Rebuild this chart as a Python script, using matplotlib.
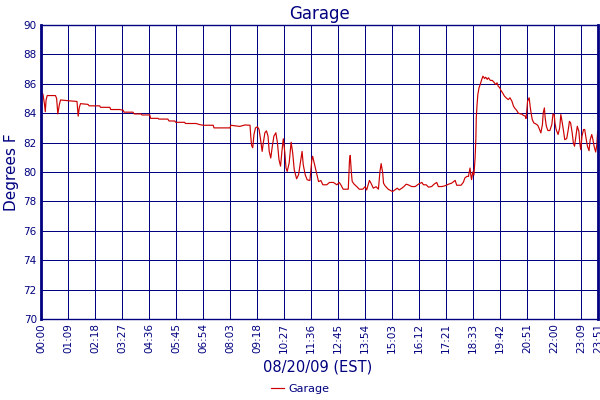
import matplotlib
matplotlib.use("Agg")
import matplotlib.pyplot as plt

navy = "#000080"

# sample index (one reading per minute, with gaps) and temperature readings
sample = [1, 5, 9, 11, 13, 16, 37, 40, 43, 47, 50, 69, 92, 95, 98, 101, 120, 123,
          150, 152, 176, 178, 201, 210, 212, 235, 238, 256, 258, 278, 280, 299, 301,
          324, 327, 342, 344, 367, 369,
          376, 396, 406, 415, 440, 442, 483, 485, 508, 521, 534, 536, 538, 541, 544,
          548, 553, 557, 561, 565, 568, 572, 576, 580, 583, 587, 591, 595, 600, 604,
          608, 612, 616, 619, 623, 626, 629, 634, 639, 643, 647, 653, 658, 664, 667,
          670, 675, 680, 687, 692, 694, 698, 703, 709, 715, 720, 730, 737,
          747, 756, 762, 766, 772, 785, 788, 790, 793, 795, 800, 807, 813, 822, 828,
          832, 839, 843, 849, 856, 862, 866, 869, 873, 875, 879, 887, 893, 898, 904,
          910, 915, 922, 927, 933, 938, 947, 956, 964, 973, 977, 984, 990, 998, 1004,
          1011, 1015, 1024, 1032, 1041, 1049,
          1058, 1062, 1073, 1079, 1083, 1088, 1092, 1094, 1096, 1098, 1100, 1103, 1106,
          1109, 1111, 1112, 1114, 1116, 1119, 1122, 1126, 1129, 1133, 1136, 1140, 1143,
          1148, 1153, 1158, 1162, 1165, 1168, 1172, 1175, 1179, 1184, 1190, 1194, 1198,
          1203, 1207, 1211, 1215, 1219, 1224, 1228, 1232, 1237, 1239, 1241, 1243, 1245,
          1247, 1250, 1252, 1255, 1259, 1264, 1269, 1272, 1277, 1281, 1283, 1286, 1288,
          1291, 1295, 1300, 1305, 1308, 1311, 1313, 1316, 1321, 1325, 1328, 1331, 1335,
          1338, 1343, 1347, 1350, 1353, 1357, 1360, 1363, 1367, 1370, 1374, 1377, 1379,
          1382, 1386, 1389, 1393, 1396, 1400, 1403, 1407, 1410, 1413, 1417, 1420, 1422]

garage = [85.38, 85.3, 84.6, 84.1, 84.9, 85.2, 85.2, 85.0, 83.95, 84.6, 84.9, 84.85, 84.8,
          83.8, 84.4, 84.65, 84.6, 84.5, 84.5, 84.4, 84.4, 84.25, 84.25, 84.2, 84.07,
          84.07, 83.95, 83.95, 83.88, 83.88, 83.65, 83.65, 83.6, 83.6, 83.47, 83.47,
          83.38, 83.38, 83.3,
          83.3, 83.3, 83.22, 83.18, 83.18, 83.0, 83.0, 83.18, 83.1, 83.2, 83.18, 82.4,
          81.8, 81.65, 82.55, 83.0, 83.08, 82.9, 82.2, 81.4, 81.99, 82.67, 82.8, 82.44,
          81.4, 80.95, 81.76, 82.44, 82.67, 81.99, 80.84, 80.4, 81.53, 82.26, 81.3,
          80.27, 80.04, 80.61, 82.03, 81.3, 80.15, 79.54, 79.81, 80.84, 81.4, 80.49,
          79.81, 79.47, 79.42, 80.84, 81.07, 80.61, 80.04, 79.35, 79.42, 79.13, 79.13,
          79.29,
          79.29, 79.13, 79.29, 79.13, 78.83, 78.83, 80.74, 81.13, 79.93, 79.36, 79.17,
          79.0, 78.83, 78.83, 79.0, 78.78, 79.43, 79.24, 78.9, 79.0, 78.83, 80.05, 80.57,
          79.93, 79.24, 79.06, 78.83, 78.74, 78.67, 78.78, 78.9, 78.78, 78.9, 79.01,
          79.17, 79.13, 79.01, 79.01, 79.17, 79.29, 79.13, 79.13, 78.97, 79.01, 79.17,
          79.29, 79.01, 79.01, 79.06, 79.17, 79.24,
          79.43, 79.1, 79.1, 79.3, 79.6, 79.7, 79.7, 80.0, 80.27, 79.8, 79.48, 80.0, 79.8,
          80.95, 82.32, 83.68, 84.59, 85.27, 85.73, 85.95, 86.3, 86.52, 86.36, 86.45,
          86.3, 86.41, 86.23, 86.23, 86.07, 85.95, 86.07, 85.84, 85.73, 85.55, 85.39,
          85.16, 85.0, 84.93, 85.05, 84.82, 84.48, 84.32, 84.2, 84.02, 83.95, 83.95,
          83.86, 83.8, 83.64, 84.14, 84.82, 84.93, 85.05, 84.39, 84.02, 83.57, 83.34,
          83.27, 83.18, 83.0, 82.66, 83.23, 84.02, 84.36, 83.68, 83.11, 82.82, 82.82,
          83.23, 83.95, 83.91, 83.34, 82.89, 82.55, 83.0, 83.91, 83.45, 82.77, 82.2,
          82.27, 82.89, 83.45, 83.34, 82.66, 81.98, 81.75, 82.55, 83.11, 82.77, 81.86,
          81.52, 82.43, 82.89, 82.89, 82.2, 81.75, 81.45, 82.2, 82.55, 82.2, 81.75,
          81.36, 81.86, 82.77]

tick_pos = [0, 69, 138, 207, 276, 345, 414, 483, 552, 621, 690, 759, 828, 897, 966,
            1035, 1104, 1173, 1242, 1311, 1380, 1423]
tick_labels = ["00:00", "01:09", "02:18", "03:27", "04:36", "05:45", "06:54", "08:03",
               "09:18", "10:27", "11:36", "12:45", "13:54", "15:03", "16:12", "17:21",
               "18:33", "19:42", "20:51", "22:00", "23:09", "23:51"]
y_ticks = [70, 72, 74, 76, 78, 80, 82, 84, 86, 88, 90]

fig = plt.figure(figsize=(6, 4), dpi=100)
ax = fig.add_axes([0.0683, 0.2025, 0.9284, 0.735])

ax.plot(sample, garage, color="#cc0000", linewidth=0.85, label="Garage")

ax.set_xlim(0, 1423)
ax.set_ylim(70, 90)
ax.set_xticks(tick_pos)
ax.set_xticklabels(tick_labels, rotation=90)
ax.set_yticks(y_ticks)
ax.grid(True, color=navy, linewidth=0.72)
ax.set_axisbelow(True)
ax.tick_params(length=0, colors=navy, labelsize=7.5, pad=3)

for side in ["left", "right"]:
    ax.spines[side].set_color(navy)
    ax.spines[side].set_linewidth(2.0)
for side in ["top", "bottom"]:
    ax.spines[side].set_color(navy)
    ax.spines[side].set_linewidth(1.0)

ax.set_title("Garage", color=navy, fontsize=12, pad=4)
ax.set_ylabel("Degrees F", color=navy, fontsize=11, labelpad=3)
fig.text(0.53, 0.083, "08/20/09 (EST)", color=navy, fontsize=10.5, ha="center", va="center")

leg = fig.legend(loc="lower center", bbox_to_anchor=(0.5, -0.01), frameon=False,
                 fontsize=8, handlelength=1.2, handletextpad=0.4)
for t in leg.get_texts():
    t.set_color(navy)

fig.savefig("out.png", dpi=100)
